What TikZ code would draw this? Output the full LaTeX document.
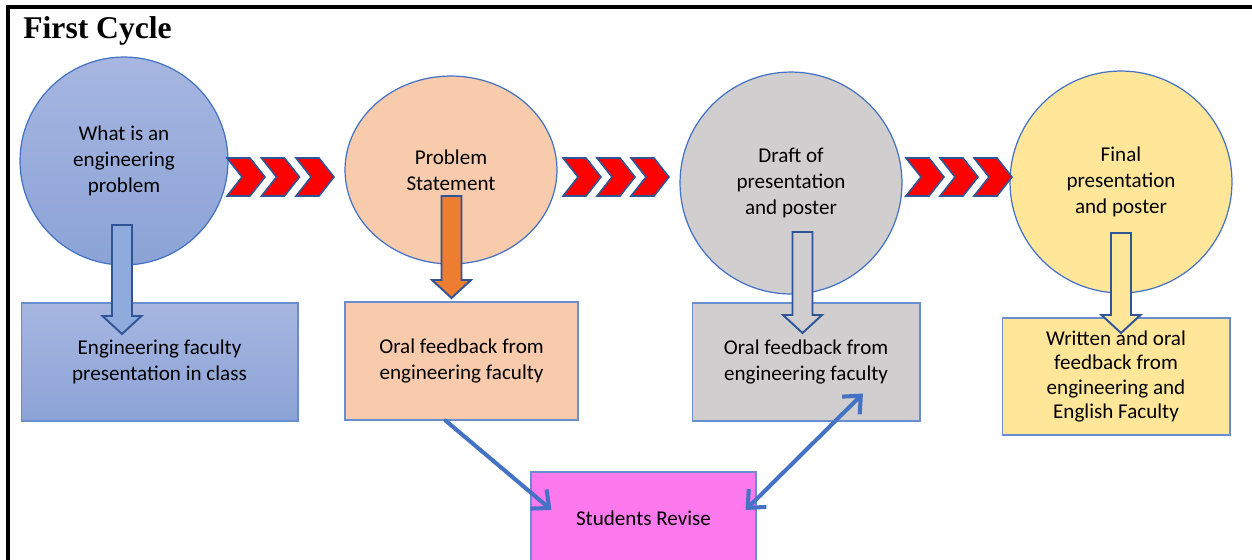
\documentclass[tikz,border=0pt]{standalone}
\usepackage{fontspec}
\setmainfont{Carlito}
\newfontfamily\titlefont{Liberation Serif}
\usepackage{tikz}
\usetikzlibrary{positioning, shapes.geometric, arrows.meta, calc}

\definecolor{edgeblue}{HTML}{4472C4}
\definecolor{arrowedge}{HTML}{2F5597}
\definecolor{blueA}{RGB}{166,182,224}
\definecolor{blueB}{RGB}{140,163,215}
\definecolor{arrowblue}{HTML}{8FAADC}
\definecolor{peach}{HTML}{F8CBAD}
\definecolor{orangearrow}{HTML}{ED7D31}
\definecolor{greystage}{HTML}{D0CECE}
\definecolor{yellowstage}{HTML}{FFE699}
\definecolor{revisepink}{RGB}{255,121,238}

% block arrow pointing down: x, top, tip, fill
\newcommand{\downblock}[4]{%
  \filldraw[fill=#4, draw=arrowedge, line width=1.1pt, line join=miter]
    (#1-10,#2) -- (#1+10,#2) -- (#1+10,#3-18) -- (#1+19.5,#3-18)
    -- (#1,#3) -- (#1-19.5,#3-18) -- (#1-10,#3-18) -- cycle;}
% one chevron: left x, middle y
\newcommand{\chevronat}[2]{%
  \filldraw[fill=red, draw=arrowedge, line width=0.9pt]
    (#1,#2-19) -- (#1+23,#2-19) -- (#1+38,#2) -- (#1+23,#2+19)
    -- (#1,#2+19) -- (#1+15,#2) -- cycle;}

\begin{document}
\begin{tikzpicture}[x=0.02cm, y=-0.02cm]
  \tikzstyle{stage}=[ellipse, draw=edgeblue, line width=0.7pt, inner sep=0, align=center, font=\fontsize{12}{14.8}\selectfont]
  \tikzstyle{feedback}=[rectangle, draw=edgeblue!80, line width=0.6pt, inner sep=0, align=center, font=\fontsize{12}{14.8}\selectfont]
  \tikzstyle{revise}=[draw=edgeblue, line width=2.3pt, line cap=round]

  \useasboundingbox (0,0) rectangle (1252,559);
  \draw [line width=1.8pt] (8,580) -- (8,7) -- (1270,7);

  \node [anchor=base west, inner sep=0, font=\titlefont\bfseries\fontsize{18}{20}\selectfont] (title) at (23,38) {First Cycle};

  % stages
  \node [stage, top color=blueA, bottom color=blueB, minimum width=4.16cm, minimum height=4.16cm] (C-A) at (124,161) {What is an\\engineering\\problem};
  \node [stage, fill=peach, minimum width=4.24cm, minimum height=3.76cm] (C-B) at (451,170) {Problem\\Statement};
  \node [stage, fill=greystage, minimum width=4.44cm, minimum height=4.44cm] (C-C) at (791,183) {Draft of\\presentation\\and poster};
  \node [stage, fill=yellowstage, minimum width=4.44cm, minimum height=4.44cm] (C-D) at (1121,182) {Final\\presentation\\and poster};

  % feedback
  \node [feedback, top color=blueA, bottom color=blueB, minimum width=5.54cm, minimum height=2.36cm] (F-A) at (159.5,362) {Engineering faculty\\presentation in class};
  \node [feedback, fill=peach, minimum width=4.66cm, minimum height=2.36cm] (F-B) at (461.5,361) {Oral feedback from\\engineering faculty};
  \node [feedback, fill=greystage, minimum width=4.56cm, minimum height=2.36cm] (F-C) at (806,362) {Oral feedback from\\engineering faculty};
  \node [feedback, fill=yellowstage, minimum width=4.56cm, minimum height=2.34cm, font=\fontsize{12}{13.7}\selectfont] (F-D) at (1116,376.5) {Written and oral\\feedback from\\engineering and\\English Faculty};
  \node [feedback, fill=revisepink, minimum width=4.5cm, minimum height=1.84cm] (R) at (643.5,518) {Students Revise};

  \downblock{122}{225}{334}{arrowblue}
  \downblock{451.5}{196}{298}{orangearrow}
  \downblock{802.5}{232}{333}{greystage}
  \downblock{1121}{233}{333}{yellowstage}

  \foreach \x in {227, 261.5, 296, 563, 597, 631, 906, 940, 974}
    {\chevronat{\x}{177}}

  \coordinate (R-in-A) at ($(R.west)+(21,-8)$);
  \coordinate (R-in-B) at ($(R.east)+(-11,-8)$);
  \coordinate (F-C-in) at ($(F-C.south)+(57,-28)$);

  \draw [revise, -{Straight Barb[length=0.28cm, width=0.5cm]}] ($(F-B.south)+(-16,0)$) -- (R-in-A);
  \draw [revise, {Straight Barb[length=0.28cm, width=0.5cm]}-{Straight Barb[length=0.28cm, width=0.5cm]}] (R-in-B) -- (F-C-in);
\end{tikzpicture}
\end{document}
